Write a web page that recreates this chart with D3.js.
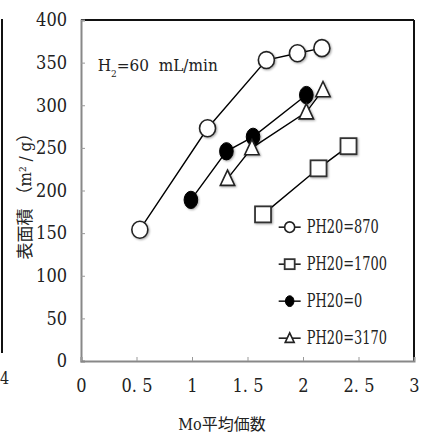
<!DOCTYPE html>
<html>
<head>
<meta charset="utf-8">
<script src="https://cdn.jsdelivr.net/npm/d3@7"></script>
<style>
  body { margin: 0; background: #fff; }
  svg { display: block; }
  text { font-family: "DejaVu Serif Condensed", "DejaVu Serif", "Liberation Serif", "Noto Sans CJK JP", serif; fill: #222; }
</style>
</head>
<body>
<div id="chart"></div>
<script>
// values
const xTicks = [0, 0.5, 1, 1.5, 2, 2.5, 3];
const yTicks = [0, 50, 100, 150, 200, 250, 300, 350, 400];
const seriesNames = ["PH20=870", "PH20=1700", "PH20=0", "PH20=3170"];
const seriesShapes = ["circle", "square", "dot", "triangle"];

const x870 = [0.53, 1.14, 1.67, 1.95, 2.17];
const y870 = [154, 273, 353, 361, 367];
const x1700 = [1.64, 2.14, 2.41];
const y1700 = [172, 226, 252];
const x0 = [0.99, 1.31, 1.55, 2.03];
const y0 = [189, 246, 263, 312];
const x3170 = [1.32, 1.54, 2.03, 2.18];
const y3170 = [214, 250, 292, 318];

const seriesX = [x870, x1700, x0, x3170];
const seriesY = [y870, y1700, y0, y3170];

const W = 423, H = 434;
const margin = { top: 20, right: 9, bottom: 73, left: 81 };
const width = W - margin.left - margin.right;
const height = H - margin.top - margin.bottom;
const fontStack = "'DejaVu Serif Condensed', 'DejaVu Serif', 'Liberation Serif', serif";

const svg = d3.select("#chart").append("svg")
    .attr("width", W)
    .attr("height", H);

// soft grey shadow that the markers have
const defs = svg.append("defs");
defs.append("filter").attr("id", "shadow")
    .attr("x", "-50%").attr("y", "-50%").attr("width", "200%").attr("height", "200%")
    .append("feDropShadow")
    .attr("dx", 1).attr("dy", 1).attr("stdDeviation", 1)
    .attr("flood-color", "#000").attr("flood-opacity", 0.35);

// fragment of the neighbouring chart at the left edge
svg.append("line")
    .attr("x1", 2).attr("x2", 2).attr("y1", 19).attr("y2", 353)
    .attr("stroke", "#111").attr("stroke-width", 2);
svg.append("text")
    .attr("x", 0).attr("y", 384)
    .style("font-size", "16px")
    .text("4");

const g = svg.append("g")
    .attr("transform", `translate(${margin.left},${margin.top})`);

const x = d3.scaleLinear().domain([0, 3]).range([0, width]);
const y = d3.scaleLinear().domain([0, 400]).range([height, 0]);

// frame: black top and right
g.append("line")
    .attr("x1", 0).attr("x2", width).attr("y1", 0).attr("y2", 0)
    .attr("stroke", "#111").attr("stroke-width", 2);
g.append("line")
    .attr("x1", width).attr("x2", width).attr("y1", 0).attr("y2", height)
    .attr("stroke", "#111").attr("stroke-width", 2);

// axes
const yAxis = g.append("g")
    .call(d3.axisLeft(y).tickValues(yTicks).tickSize(-4).tickPadding(14).tickFormat(d3.format("d")));
const xAxis = g.append("g")
    .attr("transform", `translate(0,${height})`)
    .call(d3.axisBottom(x).tickValues(xTicks).tickSize(-4).tickPadding(20)
        .tickFormat(d => d === 0 ? "0" : (Number.isInteger(d) ? d : String(d).replace(".", ". "))));

[xAxis, yAxis].forEach(a => {
    a.attr("font-family", null);
    a.select(".domain").attr("stroke", "#888").attr("stroke-width", 2);
    a.selectAll(".tick line").attr("stroke", "#999").attr("stroke-width", 1);
    a.selectAll(".tick text")
        .style("font-family", fontStack)
        .style("font-size", "18px")
        .attr("fill", "#222");
});
xAxis.selectAll(".tick text").attr("dy", "0.6em");

// axis titles
svg.append("text")
    .attr("x", 222).attr("y", 430)
    .attr("text-anchor", "middle")
    .style("font-size", "16px")
    .text("Mo平均価数");

const yTitle = svg.append("text")
    .attr("transform", "translate(31,192) rotate(-90)")
    .attr("text-anchor", "middle")
    .style("font-size", "17px");
yTitle.append("tspan").text("表面積 （m");
yTitle.append("tspan").attr("baseline-shift", "super").style("font-size", "10px").text("2");
yTitle.append("tspan").text(" / g）");

// annotation
const ann = g.append("text")
    .attr("x", x(0.15)).attr("y", y(340))
    .style("font-size", "17px");
ann.append("tspan").text("H");
ann.append("tspan").attr("baseline-shift", "sub").style("font-size", "10px").text("2");
ann.append("tspan").text("=60  mL/min").attr("xml:space", "preserve").style("white-space", "pre");

// marker drawer
function drawMarker(sel, shape, s) {
    if (shape === "circle") {
        sel.append("ellipse").attr("rx", s).attr("ry", s * 1.06)
            .attr("fill", "#fff").attr("stroke", "#222").attr("stroke-width", 1.6);
    } else if (shape === "dot") {
        sel.append("ellipse").attr("rx", s * 0.85).attr("ry", s * 1.08)
            .attr("fill", "#000").attr("stroke", "#000").attr("stroke-width", 1);
    } else if (shape === "square") {
        sel.append("rect").attr("x", -s).attr("y", -s).attr("width", 2 * s).attr("height", 2 * s)
            .attr("fill", "#fff").attr("stroke", "#333").attr("stroke-width", 1.8);
    } else {
        sel.append("path")
            .attr("d", `M0,${-s * 1.05}L${s * 0.9},${s * 0.85}L${-s * 0.9},${s * 0.85}Z`)
            .attr("fill", "#fff").attr("stroke", "#222").attr("stroke-width", 1.6);
    }
}

const line = d3.line().x(d => x(d[0])).y(d => y(d[1]));

seriesNames.forEach((name, i) => {
    const pts = seriesX[i].map((v, j) => [v, seriesY[i][j]]);
    g.append("path")
        .datum(pts)
        .attr("d", line)
        .attr("fill", "none")
        .attr("stroke", "#000")
        .attr("stroke-width", 1.4);
});

seriesNames.forEach((name, i) => {
    const pts = seriesX[i].map((v, j) => [v, seriesY[i][j]]);
    g.selectAll(null)
        .data(pts)
        .enter()
        .append("g")
        .attr("transform", d => `translate(${x(d[0])},${y(d[1])})`)
        .attr("filter", "url(#shadow)")
        .each(function () { drawMarker(d3.select(this), seriesShapes[i], 8); });
});

// legend (text squeezed sideways like the narrow original font)
const legend = g.append("g").attr("transform", `translate(${x(1.88)},${y(157)})`);
seriesNames.forEach((name, i) => {
    const row = legend.append("g").attr("transform", `translate(0,${i * 37})`);
    row.append("line").attr("x1", -11).attr("x2", 11).attr("stroke", "#000").attr("stroke-width", 1.4);
    drawMarker(row, seriesShapes[i], 5);
    row.append("text")
        .attr("transform", "translate(17,0) scale(0.8,1)")
        .attr("dy", "0.35em")
        .style("font-size", "18px")
        .text(name);
});
</script>
</body>
</html>
